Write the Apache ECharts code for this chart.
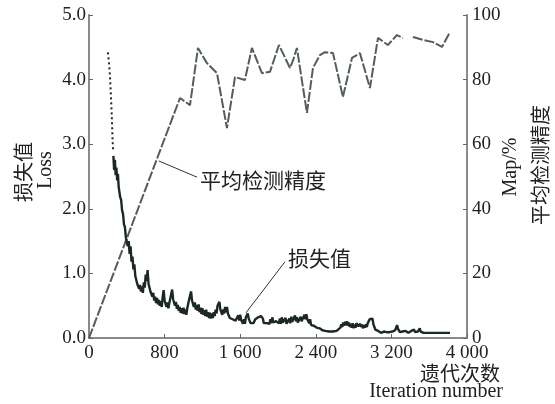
<!DOCTYPE html>
<html><head><meta charset="utf-8">
<script src="https://cdn.jsdelivr.net/npm/echarts@6/dist/echarts.min.js"></script>
<style>html,body{margin:0;padding:0;background:#fff}#c{width:555px;height:404px}</style>
</head><body><div id="c"></div>
<script>
// ---- data ----
const xTickLabels = ['0', '800', '1 600', '2 400', '3 200', '4 000'];
const lossTickLabels = ['0.0', '1.0', '2.0', '3.0', '4.0', '5.0'];
const mapTickLabels = ['0', '20', '40', '60', '80', '100'];

// early, sparse (dotted) part of the loss curve: [iteration, loss]
const lossHead = [[200,4.42],[212,4.25],[222,4.05],[232,3.75],[242,3.40],[250,3.05],[255,2.92]];

// main loss curve: [iteration, loss]
const lossMain = [
[258,2.82],[266,2.60],[274,2.76],[282,2.52],[290,2.64],[298,2.44],[306,2.54],[314,2.34],[322,2.32],[330,2.18],
[340,2.14],[350,1.98],[360,1.92],[370,1.76],[380,1.72],[390,1.56],[400,1.54],[410,1.42],[420,1.50],[430,1.30],
[440,1.42],[450,1.18],[460,1.26],[470,1.06],[480,1.14],[490,0.96],[500,0.94],[510,0.84],[520,0.84],[530,0.76],
[540,0.82],[550,0.72],[560,0.80],[570,0.70],[580,0.86],[590,0.78],[600,0.98],[610,0.88],[620,1.05],[630,0.84],
[640,0.82],[650,0.72],[660,0.74],[670,0.64],[680,0.70],[690,0.58],[700,0.64],[710,0.54],[720,0.62],[730,0.52],
[740,0.59],[750,0.50],[760,0.57],[770,0.48],[780,0.64],[790,0.74],[800,0.58],[810,0.56],[820,0.48],[830,0.55],
[840,0.46],[850,0.54],[860,0.56],[870,0.68],[880,0.75],[890,0.60],[900,0.60],[910,0.50],[920,0.56],[930,0.45],
[940,0.51],[950,0.42],[960,0.48],[970,0.39],[980,0.46],[990,0.38],[1000,0.47],[1010,0.37],[1020,0.44],[1030,0.36],
[1040,0.46],[1050,0.48],[1060,0.60],[1070,0.62],[1080,0.72],[1090,0.58],[1100,0.58],[1110,0.48],[1120,0.55],[1130,0.44],
[1140,0.51],[1150,0.42],[1160,0.52],[1170,0.40],[1180,0.47],[1190,0.37],[1200,0.46],[1210,0.36],[1220,0.43],[1230,0.34],
[1240,0.44],[1250,0.33],[1260,0.40],[1270,0.31],[1280,0.39],[1290,0.30],[1300,0.38],[1310,0.31],[1320,0.40],[1330,0.34],
[1340,0.44],[1350,0.38],[1360,0.50],[1370,0.48],[1380,0.56],[1390,0.44],[1400,0.44],[1410,0.36],[1420,0.44],[1430,0.38],
[1440,0.48],[1450,0.40],[1460,0.48],[1470,0.38],[1480,0.38],[1490,0.31],[1500,0.32],[1510,0.30],[1520,0.29],[1530,0.29],
[1540,0.28],[1550,0.27],[1560,0.27],[1570,0.28],[1580,0.35],[1590,0.27],[1600,0.36],[1610,0.28],[1620,0.29],[1630,0.22],
[1640,0.29],[1650,0.22],[1660,0.32],[1670,0.32],[1680,0.38],[1690,0.30],[1700,0.30],[1710,0.23],[1720,0.24],[1730,0.23],
[1740,0.23],[1750,0.22],[1760,0.29],[1770,0.29],[1780,0.30],[1790,0.32],[1800,0.33],[1810,0.34],[1820,0.34],[1830,0.33],
[1840,0.30],[1850,0.23],[1860,0.24],[1870,0.23],[1880,0.23],[1890,0.22],[1900,0.22],[1910,0.22],[1920,0.29],[1930,0.23],
[1940,0.32],[1950,0.24],[1960,0.25],[1970,0.25],[1980,0.26],[1990,0.26],[2000,0.24],[2010,0.23],[2020,0.30],[2030,0.22],
[2040,0.32],[2050,0.24],[2060,0.25],[2070,0.25],[2080,0.31],[2090,0.22],[2100,0.23],[2110,0.23],[2120,0.30],[2130,0.23],
[2140,0.33],[2150,0.25],[2160,0.26],[2170,0.27],[2180,0.35],[2190,0.26],[2200,0.32],[2210,0.24],[2220,0.25],[2230,0.25],
[2240,0.33],[2250,0.26],[2260,0.27],[2270,0.28],[2280,0.36],[2290,0.29],[2300,0.37],[2310,0.29],[2320,0.30],[2330,0.23],
[2340,0.29],[2350,0.20],[2360,0.22],[2370,0.20],[2380,0.19],[2390,0.17],[2400,0.18],[2410,0.16],[2420,0.16],[2430,0.14],
[2440,0.15],[2450,0.14],[2460,0.14],[2470,0.12],[2480,0.13],[2490,0.12],[2500,0.11],[2520,0.11],[2540,0.10],[2560,0.11],
[2580,0.10],[2600,0.11],[2620,0.11],[2640,0.12],[2660,0.16],[2670,0.21],[2680,0.17],[2690,0.24],[2700,0.19],[2710,0.25],
[2720,0.20],[2730,0.26],[2740,0.19],[2750,0.24],[2760,0.17],[2770,0.22],[2780,0.16],[2790,0.23],[2800,0.15],[2810,0.21],
[2820,0.16],[2830,0.23],[2840,0.24],[2850,0.18],[2860,0.16],[2870,0.22],[2880,0.17],[2890,0.21],[2900,0.15],[2910,0.20],
[2920,0.16],[2930,0.21],[2940,0.17],[2950,0.23],[2960,0.24],[2970,0.29],[2980,0.31],[2990,0.26],[3000,0.30],[3010,0.21],
[3020,0.17],[3030,0.13],[3040,0.12],[3050,0.10],[3060,0.11],[3070,0.09],[3080,0.10],[3090,0.08],[3100,0.11],[3110,0.09],
[3120,0.10],[3130,0.08],[3140,0.10],[3150,0.09],[3160,0.08],[3170,0.10],[3180,0.09],[3190,0.11],[3200,0.09],[3210,0.10],
[3220,0.11],[3230,0.13],[3240,0.12],[3250,0.16],[3260,0.20],[3270,0.14],[3280,0.11],[3290,0.09],[3300,0.10],[3310,0.08],
[3320,0.10],[3330,0.09],[3340,0.08],[3350,0.11],[3360,0.09],[3370,0.10],[3380,0.08],[3390,0.10],[3400,0.09],[3410,0.11],
[3420,0.08],[3430,0.10],[3440,0.13],[3450,0.09],[3460,0.10],[3470,0.08],[3480,0.10],[3490,0.12],[3500,0.15],[3510,0.10],
[3520,0.09],[3540,0.08],[3560,0.10],[3580,0.08],[3600,0.09],[3620,0.08],[3640,0.10],[3660,0.08],[3680,0.09],[3700,0.08],
[3720,0.09],[3740,0.08],[3760,0.09],[3780,0.08],[3800,0.09],[3820,0.08]
];

// mean average precision curve: [iteration, MAP %]; null = gap in the line
const mapPoints = [
[0,0],[480,37],[963,74.3],[1069,72.1],[1153,89.8],[1248,85.1],[1354,82.0],[1460,65.0],[1545,80.8],[1650,79.9],
[1724,89.8],[1830,82.0],[1915,82.4],[2010,90.7],[2127,83.6],[2160,86.0],[2200,89.8],[2306,69.7],[2370,83.6],[2444,87.6],
[2497,88.5],[2582,88.2],[2687,74.6],[2783,86.7],[2867,88.2],[2973,77.4],[3058,92.9],[3163,90.7],[3259,93.8],[3322,92.9],
null,
[3428,93.2],[3534,92.3],[3640,91.6],[3735,90.1],[3819,94.7]
];

// ---- chart ----
const LAT = "'Liberation Serif','Times New Roman',serif";
const CJK = "'Noto Sans CJK SC','Noto Sans CJK JP',sans-serif";
const chart = echarts.init(document.getElementById('c'), null, {renderer: 'canvas'});
const axisLineStyle = {color: '#8a8a8a', width: 2};
const labelBase = {color: '#222', fontFamily: LAT, fontSize: 19};

const option = {
  animation: false,
  backgroundColor: '#fff',
  grid: {left: 89, right: 88, top: 15, bottom: 66},
  xAxis: {
    type: 'value', min: 0, max: 4000, interval: 800,
    axisLine: {show: true, lineStyle: axisLineStyle},
    axisTick: {show: true, inside: true, length: 4, lineStyle: {color: '#666', width: 1}},
    splitLine: {show: false},
    axisLabel: Object.assign({}, labelBase, {margin: 6,
      formatter: v => xTickLabels[Math.round(v / 800)]})
  },
  yAxis: [
    {
      type: 'value', min: 0, max: 5, interval: 1, position: 'left',
      axisLine: {show: true, lineStyle: axisLineStyle},
      axisTick: {show: true, inside: true, length: 4, lineStyle: {color: '#666', width: 1}},
      splitLine: {show: false},
      axisLabel: Object.assign({}, labelBase, {margin: 3,
        formatter: v => lossTickLabels[Math.round(v)]})
    },
    {
      type: 'value', min: 0, max: 100, interval: 20, position: 'right',
      axisLine: {show: true, lineStyle: axisLineStyle},
      axisTick: {show: true, inside: true, length: 4, lineStyle: {color: '#666', width: 1}},
      splitLine: {show: false},
      axisLabel: Object.assign({}, labelBase, {margin: 5,
        formatter: v => mapTickLabels[Math.round(v / 20)]})
    }
  ],
  series: [
    {
      name: 'MAP', type: 'line', yAxisIndex: 1, data: mapPoints,
      showSymbol: false, connectNulls: false,
      lineStyle: {color: '#555c5c', width: 2, type: [10, 2]}, z: 2
    },
    {
      name: 'lossHead', type: 'line', yAxisIndex: 0, data: lossHead,
      showSymbol: false,
      lineStyle: {color: '#1c2624', width: 2, type: [2, 3]}, z: 3
    },
    {
      name: 'loss', type: 'line', yAxisIndex: 0, data: lossMain,
      showSymbol: false,
      lineStyle: {color: '#1c2826', width: 2.4}, z: 3
    }
  ]
};
chart.setOption(option);

// annotations anchored in data coordinates (iteration, loss)
const annMap = {from: [740, 2.74], to: [1143, 2.49], text: [1174, 2.45], label: '平均检测精度'};
const annLoss = {from: [1661, 0.39], to: [2074, 1.18], text: [2105, 1.24], label: '损失值'};
const px = p => chart.convertToPixel({xAxisIndex: 0, yAxisIndex: 0}, p);

function annGraphics(a) {
  const f = px(a.from), t = px(a.to), tx = px(a.text);
  return [
    {type: 'line', shape: {x1: f[0], y1: f[1], x2: t[0], y2: t[1]},
     style: {stroke: '#333', lineWidth: 1}, z: 10},
    {type: 'text', x: tx[0], y: tx[1],
     style: {text: a.label, font: '21px ' + CJK, fill: '#222', align: 'left', verticalAlign: 'middle'}, z: 10}
  ];
}

const rotText = (txt, x, y, font) => ({
  type: 'text', x: x, y: y, rotation: Math.PI / 2,
  style: {text: txt, font: font, fill: '#222', align: 'center', verticalAlign: 'middle'}, z: 10
});

chart.setOption({
  graphic: [].concat(
    annGraphics(annMap),
    annGraphics(annLoss),
    [
      rotText('损失值', 23, 172, '20px ' + CJK),
      rotText('Loss', 46, 170, '20px ' + LAT),
      rotText('Map/%', 511, 167, '20px ' + LAT),
      rotText('平均检测精度', 540, 165, '20px ' + CJK),
      {type: 'text', x: 500, y: 373, style: {text: '遗代次数', font: '20px ' + CJK, fill: '#222', align: 'right', verticalAlign: 'middle'}},
      {type: 'text', x: 503, y: 392, style: {text: 'Iteration number', font: '20px ' + LAT, fill: '#222', align: 'right', verticalAlign: 'middle'}}
    ]
  )
});
</script>
</body></html>
